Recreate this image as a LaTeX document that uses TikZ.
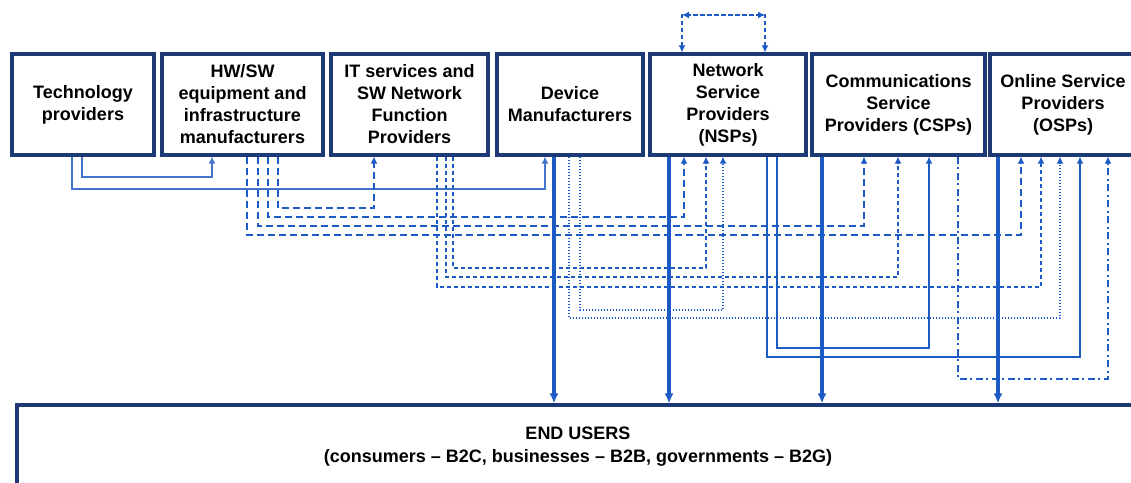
\documentclass[tikz,border=0pt]{standalone}
\usepackage{fontspec}
\setmainfont{Liberation Sans}
\usetikzlibrary{arrows.meta}
\definecolor{boxc}{RGB}{30,58,118}
\definecolor{linec}{RGB}{28,90,196}
\definecolor{thinc}{RGB}{66,116,204}
\tikzset{
  box/.style={draw=boxc, line width=3.2pt, fill=white, align=center, inner sep=2pt,
    font=\fontsize{18}{22}\selectfont\bfseries, minimum height=101pt},
  tip/.style={-{Latex[length=7pt,width=7pt]}},
  thinline/.style={draw=thinc, line width=1.5pt, tip},
  solidline/.style={draw=linec, line width=2.1pt, tip},
  longdash/.style={draw=linec, line width=2.5pt, dash pattern=on 7pt off 4pt, tip},
  shortdash/.style={draw=linec, line width=2.5pt, dash pattern=on 4.5pt off 2.5pt, tip},
  dotline/.style={draw=linec, line width=2pt, dash pattern=on 1.5pt off 1.5pt, tip},
  dashdot/.style={draw=linec, line width=2.2pt, dash pattern=on 7pt off 3.5pt on 2pt off 3.5pt, tip},
  thickline/.style={draw=linec, line width=3.6pt, -{Latex[length=10pt,width=9pt]}},
  loopline/.style={draw=linec, line width=2.2pt, dash pattern=on 4.5pt off 2.5pt,
    {Latex[length=7pt,width=7pt]}-{Latex[length=7pt,width=7pt]}},
}
\begin{document}
\begin{tikzpicture}[x=1pt, y=-1pt]
\useasboundingbox (0,0) rectangle (1131,482);
\clip (0,0) rectangle (1131,482);

% boxes
\node[box, minimum width=142pt] (tech) at (83,104.5) {Technology\\providers};
\node[box, minimum width=161pt] (hw) at (242.5,104.5) {HW/SW\\equipment and\\infrastructure\\manufacturers};
\node[box, minimum width=157pt] (it) at (409.5,104.5) {IT services and\\SW Network\\Function\\Providers};
\node[box, minimum width=146pt] (dev) at (570,104.5) {Device\\Manufacturers};
\node[box, minimum width=156pt] (nsp) at (728,104.5) {Network\\Service\\Providers\\(NSPs)};
\node[box, minimum width=173pt] (csp) at (898.5,104.5) {Communications\\Service\\Providers (CSPs)};
\node[box, minimum width=146pt] (osp) at (1063,104.5) {Online Service\\Providers\\(OSPs)};
\node[box, minimum width=1122pt, minimum height=84pt, font=\fontsize{18}{23}\selectfont\bfseries] (end) at (578,447)
  {END USERS\\(consumers -- B2C, businesses -- B2B, governments -- B2G)};

% corner coordinates
\coordinate (a1) at (82,177);   \coordinate (a2) at (212,177);
\coordinate (b1) at (72,189);   \coordinate (b2) at (545,189);
\coordinate (c1) at (278,208);  \coordinate (c2) at (374,208);
\coordinate (d1) at (268,217);  \coordinate (d2) at (684,217);
\coordinate (e1) at (258,226);  \coordinate (e2) at (864,226);
\coordinate (f1) at (247,235);  \coordinate (f2) at (1021,235);
\coordinate (g1) at (453,268);  \coordinate (g2) at (706,268);
\coordinate (h1) at (446,277);  \coordinate (h2) at (898,277);
\coordinate (i1) at (437,287);  \coordinate (i2) at (1041,287);
\coordinate (j1) at (580,310);  \coordinate (j2) at (723,310);
\coordinate (k1) at (569,318);  \coordinate (k2) at (1060,318);
\coordinate (m1) at (777,348);  \coordinate (m2) at (929,348);
\coordinate (n1) at (767,357);  \coordinate (n2) at (1080,357);
\coordinate (p1) at (958,379);  \coordinate (p2) at (1108,379);
\coordinate (q1) at (554,0);    \coordinate (q2) at (669,0);
\coordinate (q3) at (822,0);    \coordinate (q4) at (998,0);
\coordinate (l1) at (682,15);   \coordinate (l2) at (765,15);

% technology providers
\draw[thinline] (tech.south -| a1) -- (a1) -- (a2) -- (hw.south -| a2);
\draw[thinline] (tech.south -| b1) -- (b1) -- (b2) -- (dev.south -| b2);
% HW/SW
\draw[longdash] (hw.south -| c1) -- (c1) -- (c2) -- (it.south -| c2);
\draw[longdash] (hw.south -| d1) -- (d1) -- (d2) -- (nsp.south -| d2);
\draw[longdash] (hw.south -| e1) -- (e1) -- (e2) -- (csp.south -| e2);
\draw[longdash] (hw.south -| f1) -- (f1) -- (f2) -- (osp.south -| f2);
% IT services
\draw[shortdash] (it.south -| g1) -- (g1) -- (g2) -- (nsp.south -| g2);
\draw[shortdash] (it.south -| h1) -- (h1) -- (h2) -- (csp.south -| h2);
\draw[shortdash] (it.south -| i1) -- (i1) -- (i2) -- (osp.south -| i2);
% device manufacturers
\draw[dotline] (dev.south -| j1) -- (j1) -- (j2) -- (nsp.south -| j2);
\draw[dotline] (dev.south -| k1) -- (k1) -- (k2) -- (osp.south -| k2);
% NSP
\draw[solidline] (nsp.south -| m1) -- (m1) -- (m2) -- (csp.south -| m2);
\draw[solidline] (nsp.south -| n1) -- (n1) -- (n2) -- (osp.south -| n2);
% CSP
\draw[dashdot] (csp.south -| p1) -- (p1) -- (p2) -- (osp.south -| p2);
% to end users
\draw[thickline] (dev.south -| q1) -- (end.north -| q1);
\draw[thickline] (nsp.south -| q2) -- (end.north -| q2);
\draw[thickline] (csp.south -| q3) -- (end.north -| q3);
\draw[thickline] (osp.south -| q4) -- (end.north -| q4);
% NSP loop
\draw[loopline] (nsp.north -| l1) -- (l1) -- (l2);
\draw[loopline] (nsp.north -| l2) -- (l2) -- (l1);
\end{tikzpicture}
\end{document}
